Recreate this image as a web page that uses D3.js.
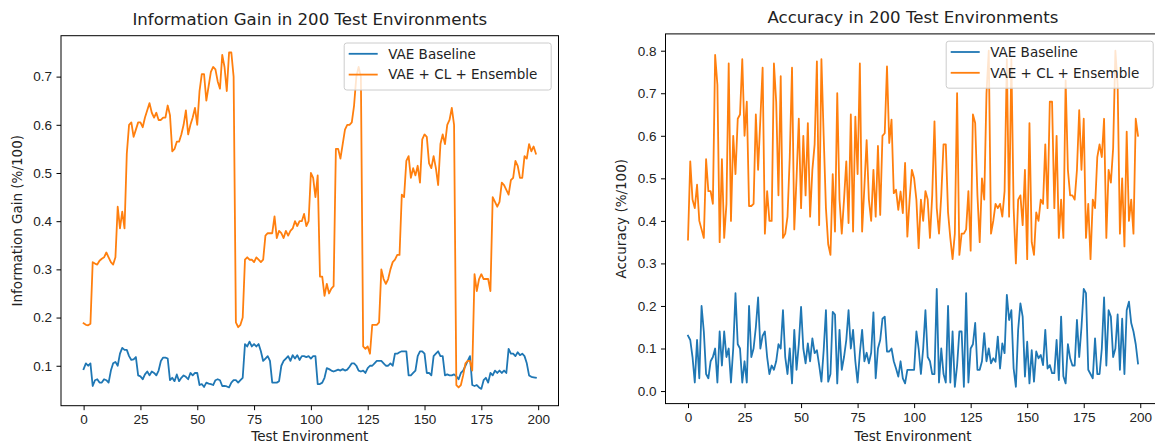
<!DOCTYPE html>
<html>
<head>
<meta charset="utf-8">
<script src="https://cdn.jsdelivr.net/npm/d3@7/dist/d3.min.js"></script>
<style>
  body { margin: 0; background: #fff; }
  svg { display: block; font-family: "DejaVu Sans", sans-serif; }
  .axis line { stroke: #000; stroke-width: 1; }
  .axis text { fill: #222; font-size: 13.5px; }
  .frame { fill: none; stroke: #000; stroke-width: 1; }
  .title { fill: #222; font-size: 16.6px; text-anchor: middle; }
  .label { fill: #222; font-size: 13.5px; text-anchor: middle; }
  .legend-box { fill: #fff; fill-opacity: 0.8; stroke: #ccc; stroke-width: 1; }
  .legend text { fill: #222; font-size: 13.5px; }
</style>
</head>
<body>
<svg id="chart" width="1155" height="444"></svg>
<script>

var env_ticks = [0, 25, 50, 75, 100, 125, 150, 175, 200];
var ig_ticks = [0.1, 0.2, 0.3, 0.4, 0.5, 0.6, 0.7];
var acc_ticks = [0.0, 0.1, 0.2, 0.3, 0.4, 0.5, 0.6, 0.7, 0.8];
var series_names = ["VAE Baseline", "VAE + CL + Ensemble"];

// Information gain, VAE baseline
var ig_vae = [
  0.093,0.105,0.10,0.105,0.058,0.07,0.072,0.065,0.065,0.072,
  0.07,0.065,0.09,0.105,0.108,0.10,0.125,0.137,0.133,0.133,
  0.12,0.112,0.113,0.118,0.08,0.078,0.072,0.082,0.088,0.08,
  0.088,0.085,0.08,0.09,0.11,0.117,0.117,0.115,0.07,0.075,
  0.068,0.082,0.068,0.075,0.08,0.077,0.072,0.085,0.08,0.085,
  0.085,0.06,0.062,0.056,0.065,0.063,0.062,0.06,0.07,0.072,
  0.07,0.058,0.058,0.057,0.055,0.065,0.07,0.07,0.065,0.07,
  0.075,0.145,0.14,0.15,0.14,0.145,0.14,0.145,0.13,0.11,
  0.115,0.12,0.11,0.065,0.065,0.065,0.068,0.10,0.11,0.115,
  0.12,0.11,0.122,0.115,0.122,0.112,0.12,0.12,0.118,0.12,
  0.115,0.12,0.12,0.062,0.062,0.065,0.075,0.095,0.093,0.09,
  0.088,0.09,0.092,0.09,0.093,0.09,0.092,0.098,0.105,0.105,
  0.10,0.09,0.088,0.09,0.085,0.095,0.10,0.10,0.105,0.11,
  0.11,0.11,0.105,0.10,0.10,0.105,0.10,0.125,0.125,0.128,
  0.13,0.13,0.13,0.08,0.08,0.085,0.09,0.12,0.13,0.13,
  0.125,0.085,0.085,0.08,0.12,0.125,0.13,0.12,0.12,0.08,
  0.082,0.08,0.08,0.082,0.078,0.072,0.085,0.09,0.10,0.11,
  0.12,0.06,0.058,0.06,0.055,0.052,0.07,0.075,0.065,0.085,
  0.08,0.09,0.085,0.09,0.085,0.09,0.085,0.135,0.125,0.125,
  0.12,0.128,0.122,0.125,0.12,0.105,0.08,0.077,0.076,0.075
];

// Information gain, VAE + CL + Ensemble
var ig_ens = [
  0.188,0.185,0.184,0.187,0.315,0.312,0.31,0.318,0.322,0.325,
  0.335,0.325,0.315,0.31,0.325,0.43,0.385,0.42,0.385,0.54,
  0.60,0.605,0.575,0.59,0.605,0.605,0.595,0.615,0.63,0.645,
  0.625,0.615,0.625,0.61,0.61,0.615,0.615,0.64,0.62,0.545,
  0.55,0.565,0.565,0.58,0.60,0.63,0.58,0.60,0.615,0.635,
  0.60,0.67,0.705,0.705,0.65,0.68,0.71,0.72,0.715,0.69,
  0.675,0.745,0.72,0.67,0.75,0.75,0.70,0.19,0.18,0.185,
  0.20,0.32,0.325,0.32,0.32,0.315,0.325,0.32,0.315,0.32,
  0.37,0.375,0.375,0.375,0.41,0.365,0.38,0.375,0.365,0.38,
  0.37,0.38,0.385,0.40,0.39,0.40,0.40,0.415,0.39,0.40,
  0.50,0.49,0.45,0.495,0.285,0.285,0.245,0.27,0.25,0.26,
  0.265,0.55,0.55,0.53,0.56,0.59,0.60,0.60,0.605,0.64,
  0.70,0.72,0.70,0.14,0.135,0.14,0.125,0.185,0.185,0.185,
  0.19,0.30,0.28,0.27,0.28,0.30,0.315,0.32,0.33,0.33,
  0.455,0.45,0.525,0.535,0.49,0.51,0.495,0.515,0.48,0.57,
  0.58,0.575,0.52,0.51,0.535,0.51,0.475,0.56,0.58,0.56,
  0.60,0.61,0.635,0.60,0.06,0.055,0.06,0.08,0.105,0.11,
  0.11,0.09,0.29,0.255,0.28,0.29,0.28,0.28,0.28,0.255,
  0.45,0.44,0.43,0.44,0.48,0.475,0.465,0.455,0.485,0.49,
  0.525,0.515,0.49,0.49,0.535,0.53,0.56,0.545,0.555,0.54
];

// Accuracy, VAE baseline
var acc_vae = [
  0.13,0.12,0.08,0.02,0.12,0.03,0.20,0.14,0.04,0.03,
  0.07,0.08,0.10,0.02,0.14,0.06,0.14,0.08,0.10,0.02,
  0.10,0.23,0.11,0.10,0.02,0.07,0.02,0.20,0.08,0.10,
  0.15,0.22,0.10,0.13,0.14,0.08,0.04,0.06,0.05,0.07,
  0.11,0.10,0.19,0.08,0.04,0.10,0.018,0.144,0.05,0.11,
  0.198,0.10,0.065,0.112,0.07,0.124,0.089,0.096,0.061,0.022,
  0.096,0.19,0.022,0.04,0.186,0.18,0.018,0.144,0.05,0.08,
  0.12,0.19,0.10,0.144,0.07,0.02,0.09,0.144,0.07,0.09,
  0.065,0.09,0.185,0.03,0.10,0.12,0.17,0.175,0.093,0.093,
  0.10,0.07,0.053,0.034,0.07,0.03,0.018,0.05,0.05,0.05,
  0.05,0.14,0.10,0.04,0.10,0.19,0.08,0.07,0.04,0.04,
  0.24,0.02,0.10,0.04,0.02,0.20,0.02,0.14,0.01,0.06,
  0.14,0.14,0.01,0.23,0.02,0.10,0.11,0.16,0.05,0.05,
  0.07,0.136,0.07,0.10,0.065,0.077,0.069,0.128,0.053,0.112,
  0.089,0.226,0.167,0.19,0.053,0.01,0.144,0.206,0.175,0.034,
  0.116,0.018,0.096,0.022,0.093,0.077,0.085,0.061,0.144,0.053,
  0.061,0.042,0.042,0.12,0.026,0.175,0.035,0.018,0.11,0.077,
  0.06,0.06,0.167,0.08,0.15,0.24,0.23,0.05,0.04,0.03,
  0.124,0.04,0.04,0.10,0.22,0.06,0.19,0.175,0.08,0.10,
  0.18,0.05,0.17,0.04,0.19,0.21,0.16,0.14,0.11,0.065
];

// Accuracy, VAE + CL + Ensemble
var acc_ens = [
  0.356,0.54,0.45,0.43,0.485,0.40,0.38,0.36,0.545,0.47,
  0.47,0.44,0.79,0.72,0.35,0.545,0.36,0.44,0.77,0.40,
  0.60,0.51,0.64,0.65,0.78,0.60,0.68,0.435,0.435,0.44,
  0.65,0.52,0.64,0.76,0.37,0.47,0.40,0.40,0.77,0.68,
  0.46,0.74,0.36,0.37,0.41,0.55,0.76,0.38,0.50,0.64,
  0.43,0.60,0.46,0.63,0.41,0.52,0.58,0.775,0.39,0.78,
  0.60,0.43,0.345,0.32,0.51,0.375,0.70,0.45,0.37,0.45,
  0.54,0.395,0.65,0.375,0.645,0.51,0.77,0.375,0.48,0.59,
  0.45,0.40,0.52,0.41,0.576,0.414,0.60,0.606,0.763,0.583,
  0.638,0.465,0.473,0.426,0.469,0.418,0.536,0.363,0.45,0.52,
  0.50,0.45,0.336,0.45,0.40,0.47,0.45,0.36,0.46,0.634,
  0.43,0.37,0.46,0.58,0.58,0.42,0.36,0.31,0.37,0.70,
  0.32,0.37,0.37,0.38,0.47,0.33,0.65,0.63,0.46,0.35,
  0.50,0.45,0.70,0.80,0.37,0.40,0.44,0.43,0.44,0.41,
  0.47,0.78,0.41,0.78,0.43,0.30,0.45,0.46,0.39,0.52,
  0.31,0.63,0.35,0.32,0.42,0.40,0.45,0.44,0.58,0.43,
  0.68,0.68,0.43,0.60,0.36,0.45,0.36,0.73,0.52,0.46,
  0.46,0.45,0.52,0.66,0.52,0.64,0.36,0.44,0.31,0.45,
  0.43,0.55,0.58,0.55,0.64,0.36,0.52,0.49,0.57,0.80,
  0.72,0.37,0.50,0.34,0.61,0.40,0.45,0.37,0.64,0.60
];

var colors = ["#1f77b4", "#ff7f0e"];

var svg = d3.select("#chart");

// 1つのサブプロットを描く (matplotlib風)
function drawPanel(cfg){

  var n = cfg.series[0].length;
  var xpad = (n - 1) * 0.05;

  var lo = d3.min(cfg.series, function(s){ return d3.min(s); });
  var hi = d3.max(cfg.series, function(s){ return d3.max(s); });
  var ypad = (hi - lo) * 0.05;

  var x_scale = d3.scaleLinear()
      .domain([-xpad, n - 1 + xpad])
      .range([cfg.left, cfg.right]);

  var y_scale = d3.scaleLinear()
      .domain([lo - ypad, hi + ypad])
      .range([cfg.bottom, cfg.top]);

  var g = svg.append("g");

  var clipId = "clip-" + cfg.id;
  g.append("clipPath").attr("id", clipId)
      .append("rect")
      .attr("x", cfg.left).attr("y", cfg.top)
      .attr("width", cfg.right - cfg.left)
      .attr("height", cfg.bottom - cfg.top);

  // 折れ線
  var line = d3.line()
      .x(function(d, i){ return x_scale(i); })
      .y(function(d){ return y_scale(d); });

  cfg.series.forEach(function(s, k){
    g.append("path")
        .datum(s)
        .attr("clip-path", "url(#" + clipId + ")")
        .attr("fill", "none")
        .attr("stroke", colors[k])
        .attr("stroke-width", 1.8)
        .attr("stroke-linejoin", "round")
        .attr("stroke-linecap", "square")
        .attr("d", line);
  });

  // Ｘ軸
  var xa = g.append("g")
      .attr("class", "axis")
      .attr("transform", "translate(0," + cfg.bottom + ")")
      .call(d3.axisBottom(x_scale)
          .tickValues(env_ticks)
          .tickFormat(d3.format("d"))
          .tickSize(4.5).tickPadding(4.5));
  xa.select(".domain").remove();

  // Ｙ軸
  var ya = g.append("g")
      .attr("class", "axis")
      .attr("transform", "translate(" + cfg.left + ",0)")
      .call(d3.axisLeft(y_scale)
          .tickValues(cfg.yticks)
          .tickFormat(d3.format(".1f"))
          .tickSize(4.5).tickPadding(4.5));
  ya.select(".domain").remove();

  // 枠
  g.append("rect")
      .attr("class", "frame")
      .attr("x", cfg.left).attr("y", cfg.top)
      .attr("width", cfg.right - cfg.left)
      .attr("height", cfg.bottom - cfg.top);

  // タイトル・軸ラベル
  g.append("text")
      .attr("class", "title")
      .attr("x", (cfg.left + cfg.right) / 2)
      .attr("y", cfg.top - 11)
      .text(cfg.title);

  g.append("text")
      .attr("class", "label")
      .attr("x", (cfg.left + cfg.right) / 2)
      .attr("y", 441)
      .text("Test Environment");

  g.append("text")
      .attr("class", "label")
      .attr("transform", "translate(" + cfg.ylabelX + "," + ((cfg.top + cfg.bottom) / 2) + ") rotate(-90)")
      .text(cfg.ylabel);

  // 凡例
  var lw = 207, lh = 47;
  var lx = cfg.right - 7.3 - lw;
  var ly = cfg.top + 7.3;
  var leg = g.append("g").attr("class", "legend");

  leg.append("rect")
      .attr("class", "legend-box")
      .attr("x", lx).attr("y", ly)
      .attr("width", lw).attr("height", lh)
      .attr("rx", 2.6).attr("ry", 2.6);

  series_names.forEach(function(name, k){
    var cy = ly + 10.8 + k * 20.8;
    leg.append("line")
        .attr("x1", lx + 4.5).attr("x2", lx + 33.5)
        .attr("y1", cy).attr("y2", cy)
        .attr("stroke", colors[k])
        .attr("stroke-width", 1.8);
    leg.append("text")
        .attr("x", lx + 44)
        .attr("y", cy)
        .attr("dy", "0.36em")
        .text(name);
  });
}

drawPanel({
  id: "ig",
  series: [ig_vae, ig_ens],
  yticks: ig_ticks,
  left: 61, right: 558.5, top: 35.7, bottom: 405.7,
  title: "Information Gain in 200 Test Environments",
  ylabel: "Information Gain (%/100)",
  ylabelX: 21.5
});

drawPanel({
  id: "acc",
  series: [acc_vae, acc_ens],
  yticks: acc_ticks,
  left: 665.5, right: 1160.5, top: 33.9, bottom: 403.6,
  title: "Accuracy in 200 Test Environments",
  ylabel: "Accuracy (%/100)",
  ylabelX: 626
});

</script>
</body>
</html>
